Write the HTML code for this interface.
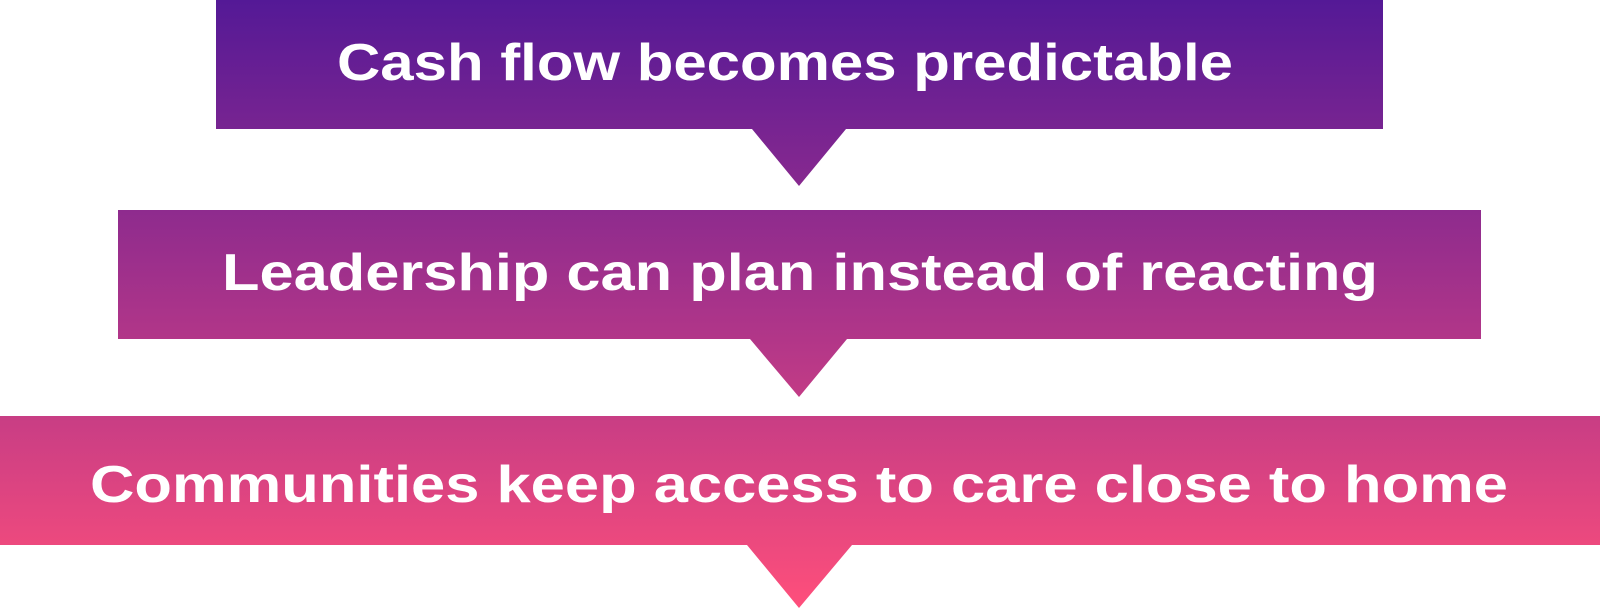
<!DOCTYPE html>
<html><head><style>html,body{margin:0;padding:0;background:#fff;}svg{display:block}</style></head>
<body>
<svg width="1600" height="609" viewBox="0 0 1600 609" xmlns="http://www.w3.org/2000/svg">
<defs>
<linearGradient id="g" gradientUnits="userSpaceOnUse" x1="0" y1="0" x2="0" y2="609">
<stop offset="0" stop-color="#541996"/>
<stop offset="0.5" stop-color="#a8338a"/>
<stop offset="1" stop-color="#ff4f7b"/>
</linearGradient>
</defs>
<g fill="url(#g)">
<polygon points="216,0 1383,0 1383,129 846,129 799,186 752,129 216,129"/>
<polygon points="118,210 1481,210 1481,339 847,339 799,397 750,339 118,339"/>
<polygon points="0,416 1600,416 1600,545 852,545 799,608 747,545 0,545"/>
</g>
<g fill="#fff" font-family="Liberation Sans, sans-serif" font-weight="bold" font-size="52">
<text x="337" y="80" textLength="896" lengthAdjust="spacingAndGlyphs">Cash flow becomes predictable</text>
<text x="222" y="290" textLength="1156" lengthAdjust="spacingAndGlyphs">Leadership can plan instead of reacting</text>
<text x="90" y="502" textLength="1418" lengthAdjust="spacingAndGlyphs">Communities keep access to care close to home</text>
</g>
</svg>
</body></html>
